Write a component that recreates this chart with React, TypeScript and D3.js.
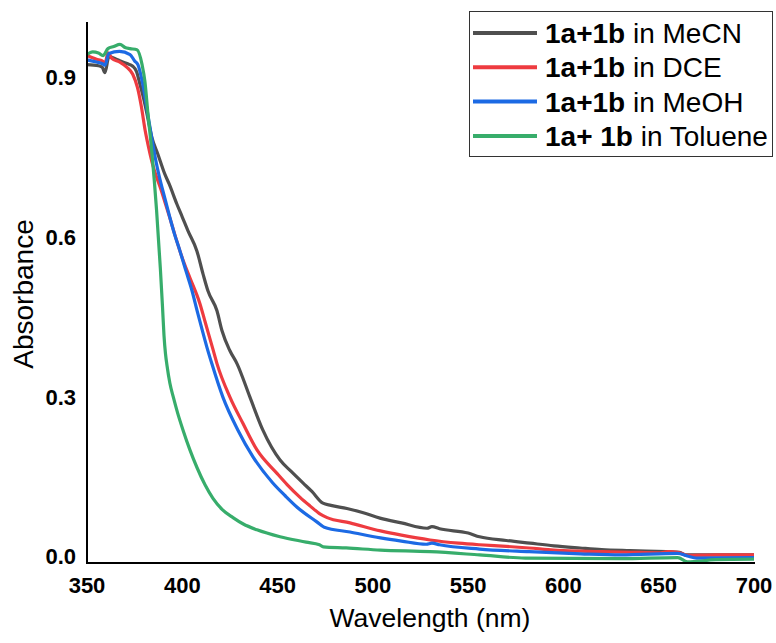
import React from 'react';
import * as d3 from 'd3';

// [wavelength (nm), absorbance]
const mecn: [number, number][] = [
  [350, 0.923], [356, 0.921], [358, 0.918], [359.4, 0.908], [361.5, 0.938], [366, 0.932],
  [371, 0.925], [374, 0.92], [376, 0.91], [377.8, 0.886], [380, 0.855], [381.5, 0.83],
  [384, 0.787], [387.2, 0.755], [390.9, 0.717], [393, 0.7], [397.2, 0.661], [400, 0.637],
  [403, 0.611], [407.7, 0.573], [410.9, 0.53], [413.5, 0.498], [418.2, 0.461], [420.8, 0.424],
  [425, 0.386], [428.7, 0.362], [435.5, 0.299], [442.3, 0.237], [451.3, 0.181], [457, 0.16],
  [463.3, 0.138], [468, 0.122], [473.8, 0.1], [478, 0.096], [486.4, 0.09], [495, 0.082],
  [503.7, 0.072], [515, 0.063], [528.4, 0.053], [531, 0.056], [535, 0.052], [550, 0.044],
  [556, 0.037], [570, 0.03], [582.4, 0.025], [595, 0.02], [608.7, 0.016], [620, 0.013],
  [635, 0.011], [654, 0.009], [661, 0.008], [664, 0.003], [680, 0.003], [700, 0.003],
];

const dce: [number, number][] = [
  [350, 0.94], [355, 0.933], [358, 0.93], [359.5, 0.926], [361, 0.945], [363, 0.935],
  [367, 0.928], [371, 0.918], [374, 0.905], [376.5, 0.88], [378.5, 0.845], [380.5, 0.8],
  [382.5, 0.765], [384.5, 0.735], [386.5, 0.712], [388.5, 0.692], [391, 0.664], [393.5, 0.635],
  [396, 0.605], [398.8, 0.573], [401, 0.55], [404, 0.523], [409.3, 0.474], [412, 0.44],
  [416, 0.39], [418.2, 0.362], [425, 0.299], [431.8, 0.25], [439.2, 0.2], [449.7, 0.156],
  [455, 0.135], [461.8, 0.111], [467, 0.095], [472.2, 0.08], [476, 0.073], [488, 0.063],
  [504, 0.048], [515, 0.04], [530, 0.031], [545, 0.025], [556, 0.022], [570, 0.019],
  [582, 0.016], [595, 0.012], [609, 0.01], [620, 0.009], [635, 0.008], [650, 0.007],
  [655, 0.009], [660, 0.008], [665, 0.002], [680, 0.003], [700, 0.003],
];

const meoh: [number, number][] = [
  [350, 0.932], [355, 0.928], [357.9, 0.925], [359.4, 0.922], [361.5, 0.944], [367, 0.948],
  [372.6, 0.942], [375, 0.93], [376.7, 0.923], [379.3, 0.886], [381.9, 0.83], [384, 0.785],
  [386, 0.745], [388, 0.712], [390.5, 0.677], [393.5, 0.636], [396, 0.604], [398.8, 0.573],
  [402, 0.535], [405, 0.5], [408, 0.458], [410.3, 0.427], [412.9, 0.393], [415.5, 0.362],
  [421.3, 0.299], [429.2, 0.237], [437.1, 0.187], [447.5, 0.138], [454, 0.114], [460.1, 0.093],
  [470.6, 0.065], [474.5, 0.055], [488, 0.046], [504, 0.035], [515, 0.029], [528, 0.023],
  [531, 0.025], [535, 0.022], [556, 0.014], [582, 0.009], [609, 0.005], [630, 0.003],
  [660, 0.006], [665, 0.001], [670, -0.003], [700, -0.002],
];

const toluene: [number, number][] = [
  [350, 0.942], [353, 0.947], [356, 0.945], [358.4, 0.94], [361, 0.953], [364, 0.957],
  [367.3, 0.961], [370, 0.955], [372.6, 0.953], [376.2, 0.951], [378.9, 0.923], [380.4, 0.891],
  [382, 0.83], [384, 0.76], [386.5, 0.65], [388.5, 0.54], [389.6, 0.47], [390.4, 0.415],
  [391.2, 0.38], [392, 0.358], [393.5, 0.325], [395.3, 0.299], [397.5, 0.27], [400.4, 0.237],
  [404, 0.2], [407.7, 0.167], [412, 0.134], [416.1, 0.109], [421, 0.088], [426.6, 0.073],
  [432, 0.061], [439.2, 0.05], [451.3, 0.037], [465, 0.027], [472, 0.022], [474, 0.018],
  [486, 0.016], [504, 0.012], [530, 0.009], [556, 0.003], [580, -0.003], [630, -0.004],
  [660, -0.002], [665, -0.01], [680, -0.006], [700, -0.005],
];

const seriesNames = ['MeCN', 'DCE', 'MeOH', 'Toluene'];
const seriesColors = ['#4f4f4f', '#ee3b40', '#1c6ae4', '#37ad6b'];
const xTicks = [350, 400, 450, 500, 550, 600, 650, 700];
const yTicks = [0.0, 0.3, 0.6, 0.9];

const FONT = 'Liberation Sans, Arial, Helvetica, sans-serif';

const App = () => {
  const width = 776;
  const height = 643;

  const x = d3.scaleLinear().domain([350, 700]).range([87, 754]);
  const y = d3.scaleLinear().domain([-0.0122, 1.003]).range([563, 22]);

  const line = d3.line<[number, number]>()
    .x(d => x(d[0]))
    .y(d => y(d[1]))
    .curve(d3.curveMonotoneX);

  const allSeries = [mecn, dce, meoh, toluene];

  return (
    <svg width={width} height={height} style={{ position: 'absolute', left: 0, top: 0 }}
      fontFamily={FONT}>
      <rect width={width} height={height} fill="#fff" />

      {allSeries.map((s, i) => (
        <path key={i} d={line(s) || ''} fill="none"
          stroke={seriesColors[i]} strokeWidth={3.2} strokeLinejoin="round" />
      ))}

      {/* axes */}
      <line x1={87} x2={87} y1={y.range()[1]} y2={y.range()[0] + 1} stroke="#000" strokeWidth={2} />
      <line x1={86} x2={x.range()[1] + 1} y1={563} y2={563} stroke="#000" strokeWidth={2} />

      {xTicks.map(t => (
        <text key={t} x={x(t)} y={593} textAnchor="middle" fontSize={22} fontWeight="bold">{t}</text>
      ))}
      {yTicks.map(t => (
        <text key={t} x={76} y={y(t) + 8} textAnchor="end" fontSize={22} fontWeight="bold">{t.toFixed(1)}</text>
      ))}

      <text x={430} y={627} textAnchor="middle" fontSize={26.5}>Wavelength (nm)</text>
      <text transform={`translate(33,294) rotate(-90)`} textAnchor="middle" fontSize={28}>Absorbance</text>

      {/* legend */}
      <rect x={469.5} y={11.5} width={303} height={145} fill="#fff" stroke="#333" strokeWidth={1} />
      {seriesNames.map((name, i) => {
        const cy = 33 + i * 34.3;
        return (
          <g key={name}>
            <line x1={473} x2={537} y1={cy} y2={cy} stroke={seriesColors[i]} strokeWidth={4} />
            <text x={545} y={cy + 10} fontSize={28}>
              <tspan fontWeight="bold">{i === 3 ? '1a+ 1b' : '1a+1b'}</tspan>
              <tspan>{' in ' + name}</tspan>
            </text>
          </g>
        );
      })}
    </svg>
  );
};

export default App;
